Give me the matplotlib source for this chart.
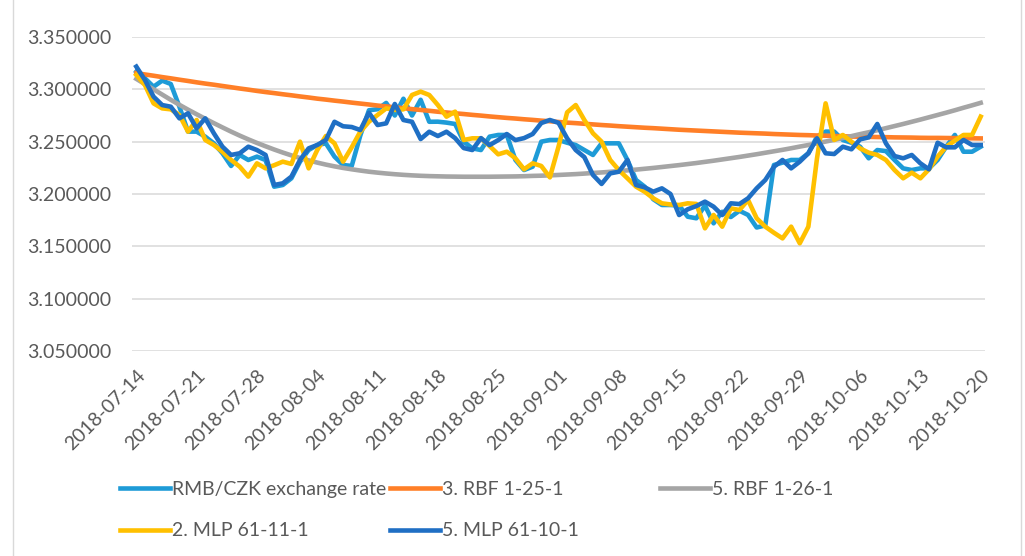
#!/usr/bin/env python3

"""RMB/CZK exchange rate against RBF and MLP model outputs."""

import pandas as pd
import matplotlib.pyplot as plt
from matplotlib.lines import Line2D

plt.rcParams['font.family'] = ['Lato', 'DejaVu Sans']

dates = pd.date_range('2018-07-14', '2018-10-20', freq='D')
tick_labels = [d.strftime('%Y-%m-%d') for d in dates[::7]]

rmb_czk = [
    3.3169, 3.3105, 3.3025, 3.3083, 3.3051, 3.2834, 3.2596, 3.2596, 3.2548, 3.2484,
    3.2389, 3.2268, 3.2373, 3.2325, 3.2357, 3.2325, 3.2070, 3.2086, 3.2150, 3.2309,
    3.2420, 3.2468, 3.2484, 3.2357, 3.2277, 3.2268, 3.2560, 3.2800, 3.2810, 3.2870,
    3.2750, 3.2910, 3.2750, 3.2900, 3.2690, 3.2691, 3.2682, 3.2669, 3.2500, 3.2436,
    3.2420, 3.2548, 3.2564, 3.2564, 3.2325, 3.2229, 3.2261, 3.2500, 3.2516, 3.2516,
    3.2490, 3.2468, 3.2420, 3.2373, 3.2484, 3.2484, 3.2484, 3.2325, 3.2134, 3.2070,
    3.1950, 3.1895, 3.1895, 3.1890, 3.1783, 3.1768, 3.1890, 3.1720, 3.1830, 3.1780,
    3.1840, 3.1800, 3.1680, 3.1700, 3.2277, 3.2300, 3.2325, 3.2325, 3.2389, 3.2548,
    3.2596, 3.2596, 3.2516, 3.2490, 3.2452, 3.2341, 3.2420, 3.2410, 3.2325, 3.2245,
    3.2229, 3.2245, 3.2245, 3.2325, 3.2452, 3.2564, 3.2404, 3.2404, 3.2452,
]

rbf_1_25_1 = [
    3.3155, 3.3142, 3.3130, 3.3117, 3.3105, 3.3092, 3.3080, 3.3067, 3.3055, 3.3044,
    3.3032, 3.3020, 3.3008, 3.2997, 3.2985, 3.2974, 3.2964, 3.2953, 3.2943, 3.2932,
    3.2922, 3.2911, 3.2902, 3.2892, 3.2883, 3.2873, 3.2864, 3.2855, 3.2845, 3.2837,
    3.2828, 3.2820, 3.2811, 3.2803, 3.2795, 3.2786, 3.2779, 3.2771, 3.2764, 3.2756,
    3.2749, 3.2741, 3.2734, 3.2727, 3.2721, 3.2714, 3.2708, 3.2701, 3.2695, 3.2688,
    3.2682, 3.2677, 3.2671, 3.2665, 3.2659, 3.2654, 3.2648, 3.2643, 3.2638, 3.2633,
    3.2629, 3.2624, 3.2619, 3.2614, 3.2610, 3.2606, 3.2602, 3.2598, 3.2594, 3.2590,
    3.2586, 3.2583, 3.2580, 3.2577, 3.2573, 3.2570, 3.2567, 3.2564, 3.2562, 3.2559,
    3.2557, 3.2554, 3.2552, 3.2549, 3.2547, 3.2546, 3.2544, 3.2543, 3.2541, 3.2540,
    3.2539, 3.2537, 3.2536, 3.2536, 3.2535, 3.2534, 3.2533, 3.2532, 3.2531,
]

rbf_1_26_1 = [
    3.3100, 3.3050, 3.3000, 3.2950, 3.2900, 3.2852, 3.2806, 3.2762, 3.2719, 3.2677,
    3.2636, 3.2596, 3.2558, 3.2522, 3.2488, 3.2456, 3.2425, 3.2396, 3.2369, 3.2344,
    3.2321, 3.2300, 3.2281, 3.2264, 3.2249, 3.2236, 3.2224, 3.2213, 3.2204, 3.2196,
    3.2189, 3.2183, 3.2178, 3.2174, 3.2171, 3.2169, 3.2167, 3.2166, 3.2165, 3.2165,
    3.2165, 3.2165, 3.2166, 3.2167, 3.2168, 3.2170, 3.2173, 3.2175, 3.2178, 3.2182,
    3.2186, 3.2190, 3.2195, 3.2201, 3.2206, 3.2212, 3.2219, 3.2226, 3.2233, 3.2241,
    3.2249, 3.2258, 3.2267, 3.2276, 3.2286, 3.2296, 3.2307, 3.2318, 3.2330, 3.2342,
    3.2354, 3.2367, 3.2380, 3.2394, 3.2408, 3.2422, 3.2437, 3.2453, 3.2468, 3.2484,
    3.2501, 3.2518, 3.2535, 3.2553, 3.2572, 3.2590, 3.2609, 3.2629, 3.2649, 3.2669,
    3.2690, 3.2711, 3.2733, 3.2755, 3.2777, 3.2800, 3.2824, 3.2847, 3.2871,
]

mlp_61_11_1 = [
    3.3137, 3.3041, 3.2866, 3.2818, 3.2809, 3.2755, 3.2596, 3.2707, 3.2516, 3.2468,
    3.2404, 3.2325, 3.2261, 3.2166, 3.2293, 3.2245, 3.2275, 3.2309, 3.2287, 3.2500,
    3.2245, 3.2420, 3.2554, 3.2484, 3.2309, 3.2446, 3.2596, 3.2691, 3.2755, 3.2818,
    3.2803, 3.2809, 3.2946, 3.2978, 3.2946, 3.2850, 3.2739, 3.2787, 3.2516, 3.2532,
    3.2532, 3.2459, 3.2379, 3.2404, 3.2341, 3.2236, 3.2293, 3.2268, 3.2159, 3.2452,
    3.2780, 3.2850, 3.2707, 3.2580, 3.2500, 3.2325, 3.2229, 3.2150, 3.2070, 3.2022,
    3.1959, 3.1911, 3.1900, 3.1895, 3.1911, 3.1905, 3.1672, 3.1800, 3.1688, 3.1863,
    3.1847, 3.1943, 3.1768, 3.1688, 3.1630, 3.1576, 3.1688, 3.1529, 3.1688, 3.2340,
    3.2866, 3.2516, 3.2564, 3.2500, 3.2436, 3.2395, 3.2373, 3.2325, 3.2229, 3.2150,
    3.2204, 3.2150, 3.2236, 3.2357, 3.2452, 3.2510, 3.2564, 3.2564, 3.2739,
]

mlp_61_10_1 = [
    3.3217, 3.3089, 3.2930, 3.2850, 3.2834, 3.2723, 3.2771, 3.2627, 3.2723, 3.2580,
    3.2452, 3.2373, 3.2389, 3.2452, 3.2420, 3.2373, 3.2086, 3.2102, 3.2166, 3.2325,
    3.2436, 3.2468, 3.2516, 3.2690, 3.2647, 3.2640, 3.2611, 3.2776, 3.2659, 3.2675,
    3.2860, 3.2707, 3.2690, 3.2525, 3.2595, 3.2554, 3.2595, 3.2534, 3.2439, 3.2420,
    3.2534, 3.2467, 3.2515, 3.2573, 3.2515, 3.2534, 3.2573, 3.2678, 3.2707, 3.2680,
    3.2532, 3.2420, 3.2352, 3.2182, 3.2096, 3.2197, 3.2213, 3.2325, 3.2086, 3.2064,
    3.2022, 3.2054, 3.2000, 3.1799, 3.1854, 3.1885, 3.1927, 3.1879, 3.1799, 3.1911,
    3.1904, 3.1959, 3.2054, 3.2134, 3.2260, 3.2325, 3.2245, 3.2309, 3.2389, 3.2532,
    3.2389, 3.2382, 3.2452, 3.2427, 3.2522, 3.2541, 3.2669, 3.2484, 3.2363, 3.2341,
    3.2373, 3.2293, 3.2236, 3.2490, 3.2446, 3.2446, 3.2516, 3.2468, 3.2468,
]

yticks = [3.05, 3.10, 3.15, 3.20, 3.25, 3.30, 3.35]

fig = plt.figure(figsize=(10.25, 5.56), dpi=100)
ax = fig.add_axes([132 / 1025, 1 - 351 / 556, 853 / 1025, 314 / 556])

x = range(len(dates))
lw = 3.3
l1, = ax.plot(x, rmb_czk, color='#1e9bd7', lw=lw, label='RMB/CZK exchange rate')
l2, = ax.plot(x, rbf_1_25_1, color='#ff7f27', lw=lw, label='3. RBF 1-25-1')
l3, = ax.plot(x, rbf_1_26_1, color='#a5a5a5', lw=lw, label='5. RBF 1-26-1')
l4, = ax.plot(x, mlp_61_11_1, color='#ffc000', lw=lw, label='2. MLP 61-11-1')
l5, = ax.plot(x, mlp_61_10_1, color='#1f6fc4', lw=lw, label='5. MLP 61-10-1')

ax.set_xlim(-0.5, len(dates) - 0.5)
ax.set_ylim(3.05, 3.35)
ax.set_yticks(yticks)
ax.set_yticklabels([f'{v:.6f}' for v in yticks])
ax.set_xticks(range(0, len(dates), 7))
ax.set_xticklabels(tick_labels, rotation=45, ha='right', va='top',
                   rotation_mode='anchor')
ax.tick_params(axis='both', length=0, labelsize=14, labelcolor='#595959')
ax.tick_params(axis='y', pad=15)
ax.tick_params(axis='x', pad=11)
ax.grid(axis='y', color='#d9d9d9', lw=1.1)
ax.set_axisbelow(True)
for s in ax.spines.values():
    s.set_visible(False)

# Excel-style legend: three evenly spaced columns
leg_kw = dict(frameon=False, fontsize=14, handlelength=2.55, handletextpad=0.15,
              borderpad=0, borderaxespad=0, labelspacing=1.25, loc='upper left')
for handles, xpos in [([l1, l4], 120), ([l2, l5], 390), ([l3], 660)]:
    leg = fig.legend(handles=handles, bbox_to_anchor=(xpos / 1025, 1 - 481 / 556),
                     **leg_kw)
    for t in leg.get_texts():
        t.set_color('#595959')

# chart area border
for xb in (13, 1021):
    fig.add_artist(Line2D([xb / 1025, xb / 1025], [0, 1], color='#d9d9d9', lw=1))

fig.savefig('out.png', dpi=100)
